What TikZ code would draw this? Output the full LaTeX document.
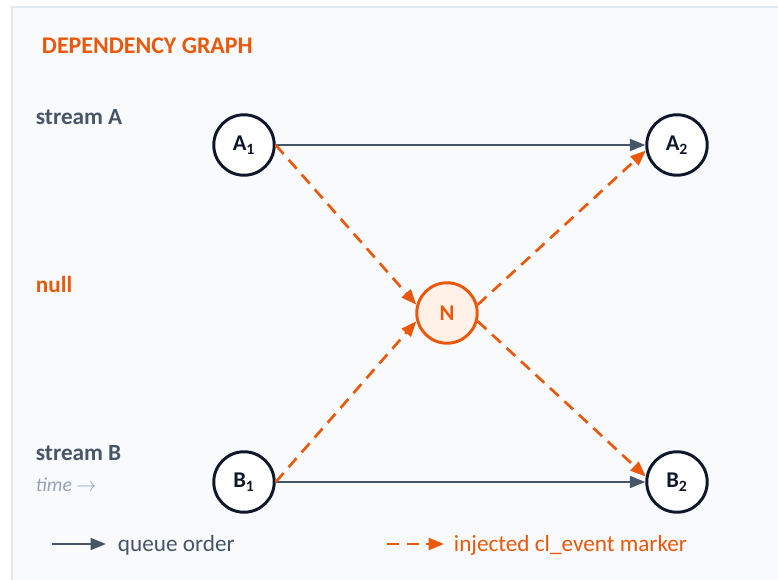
\documentclass[tikz,border=0pt]{standalone}
\usepackage{fontspec}
\setmainfont{Carlito}
\usetikzlibrary{arrows.meta,positioning}
\definecolor{panel}{HTML}{F8FAFC}
\definecolor{rim}{HTML}{E2E8F0}
\definecolor{ink}{HTML}{0F172A}
\definecolor{slate}{HTML}{475569}
\definecolor{mist}{HTML}{94A3B8}
\definecolor{flame}{HTML}{EA580C}
\definecolor{blush}{HTML}{FFF1E8}
\tikzset{
	op/.style={circle,draw=ink,line width=2.1pt,fill=white,minimum size=43pt,inner sep=0pt,
		font=\fontsize{16}{18}\selectfont\bfseries,text=ink},
	marker/.style={op,draw=flame,fill=blush,text=flame},
	queue/.style={-{Triangle[length=11pt,width=8.5pt]},line width=1.4pt,color=slate},
	inject/.style={-{Triangle[length=11pt,width=8.5pt]},line width=1.9pt,color=flame,
		dash pattern=on 8.5pt off 5.5pt},
	lane/.style={anchor=west,font=\fontsize{16.5}{18}\selectfont\bfseries,text=slate},
	note/.style={anchor=west,font=\fontsize{16.5}{18}\selectfont}
}
\begin{document}
\begin{tikzpicture}[x=0.025cm,y=-0.025cm]
	\useasboundingbox (0,0) rectangle (778,580);
	\fill[panel] (12,7) rectangle (790,592);
	\draw[rim,line width=1.4pt] (12,592) -- (12,7) -- (790,7);

	\node[anchor=west,font=\fontsize{17}{19}\selectfont\bfseries,text=flame] (title) at (37,46) {DEPENDENCY GRAPH};
	\node[lane] (lanea) at (31,117) {stream A};
	\node[lane,text=flame] (lanen) at (31,284) {null};
	\node[lane] (laneb) at (31,453) {stream B};
	\node[anchor=west,font=\fontsize{14}{16}\selectfont\itshape,text=mist] (time) at (31,485) {time $\rightarrow$};

	\node[op] (a1) at (244,145) {A\textsubscript{1}};
	\node[op] (a2) at (677,145) {A\textsubscript{2}};
	\node[op] (b1) at (244,482) {B\textsubscript{1}};
	\node[op] (b2) at (677,482) {B\textsubscript{2}};
	\node[marker] (n) at (447,313) {N};

	\path[queue]
	(a1) edge (a2)
	(b1) edge (b2);
	\path[inject]
	(a1.east) edge (n.165)
	(b1.east) edge (n.195)
	(n.15) edge (a2.190)
	(n.-15) edge (b2.170);

	% legend
	\coordinate (q0) at (52,544);
	\coordinate (q1) at (106,544);
	\coordinate (i0) at (387,544);
	\coordinate (i1) at (444,544);
	\draw[queue] (q0) -- (q1);
	\node[note,text=slate] (qtext) at (113,545) {queue order};
	\draw[inject] (i0) -- (i1);
	\node[note,text=flame] (itext) at (449,545) {injected cl\_event marker};
\end{tikzpicture}
\end{document}
